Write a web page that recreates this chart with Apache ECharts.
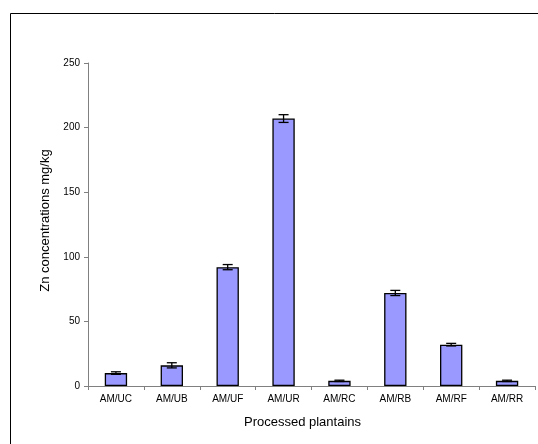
<!DOCTYPE html>
<html>
<head>
<meta charset="utf-8">
<script src="https://cdn.jsdelivr.net/npm/echarts@6/dist/echarts.min.js"></script>
<style>html,body{margin:0;padding:0;background:#fff}#c{width:538px;height:444px}</style>
</head>
<body>
<div id="c"></div>
<script>
var categories = ['AM/UC','AM/UB','AM/UF','AM/UR','AM/RC','AM/RB','AM/RF','AM/RR'];
var values = [10, 16, 92, 207, 4, 72, 32, 4];
var errors = [1, 2, 2, 3, 0.5, 2, 1, 0.5];
var yTicks = [0, 50, 100, 150, 200, 250];

var chart = echarts.init(document.getElementById('c'), null, {renderer: 'canvas'});
var errData = values.map(function (v, i) { return [i, v - errors[i], v + errors[i]]; });
var font = 'Arial, "Liberation Sans", sans-serif';
chart.setOption({
  animation: false,
  backgroundColor: '#fff',
  graphic: [{
    type: 'rect', silent: true,
    shape: {x: 10.5, y: 13.5, width: 700, height: 600},
    style: {fill: 'none', stroke: '#000', lineWidth: 1}
  }],
  grid: {left: 88, top: 63, right: 3, bottom: 58, containLabel: false},
  xAxis: {
    type: 'category', data: categories,
    name: 'Processed plantains', nameLocation: 'middle', nameGap: 30,
    nameTextStyle: {fontFamily: font, fontSize: 13, color: '#000', padding: [0, 18, 0, 0]},
    axisLine: {lineStyle: {color: '#808080', width: 1}},
    axisTick: {show: true, length: 4, alignWithLabel: false, lineStyle: {color: '#808080'}},
    axisLabel: {fontFamily: font, fontSize: 10, color: '#000', margin: 8, interval: 0},
    splitLine: {show: false}
  },
  yAxis: {
    type: 'value', min: 0, max: yTicks[yTicks.length - 1], interval: 50,
    name: 'Zn concentrations mg/kg', nameLocation: 'middle', nameGap: 35, nameRotate: 90,
    nameTextStyle: {fontFamily: font, fontSize: 13, color: '#000', padding: [0, 0, 0, 8]},
    axisLine: {show: true, lineStyle: {color: '#808080', width: 1}},
    axisTick: {show: true, length: 4, lineStyle: {color: '#808080'}},
    axisLabel: {fontFamily: font, fontSize: 10, color: '#000', margin: 8},
    splitLine: {show: false}
  },
  series: [{
    type: 'bar', data: values, barWidth: '40%',
    itemStyle: {color: '#9999FF', borderColor: '#000', borderWidth: 1.3},
    z: 2
  }, {
    type: 'custom', data: errData, z: 3,
    renderItem: function (params, api) {
      var x = api.value(0);
      var lo = api.coord([x, api.value(1)]);
      var hi = api.coord([x, api.value(2)]);
      var hw = 5;
      var st = {stroke: '#000', lineWidth: 1.3};
      return {type: 'group', children: [
        {type: 'line', shape: {x1: lo[0], y1: lo[1], x2: hi[0], y2: hi[1]}, style: st},
        {type: 'line', shape: {x1: hi[0] - hw, y1: hi[1], x2: hi[0] + hw, y2: hi[1]}, style: st},
        {type: 'line', shape: {x1: lo[0] - hw, y1: lo[1], x2: lo[0] + hw, y2: lo[1]}, style: st}
      ]};
    }
  }]
});
</script>
</body>
</html>
